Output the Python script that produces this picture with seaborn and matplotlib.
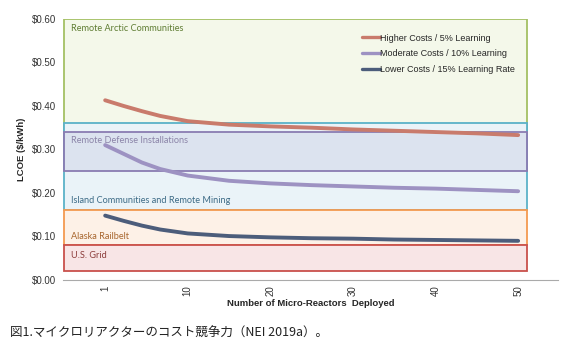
import numpy as np
import pandas as pd
import matplotlib
matplotlib.use("Agg")
import matplotlib.pyplot as plt
from matplotlib.patches import Rectangle
import seaborn as sns

# ---- data ----
deployed = [1, 3, 5, 7, 10, 15, 20, 25, 30, 35, 40, 45, 50]
higher = [0.413, 0.400, 0.388, 0.377, 0.365, 0.357, 0.353, 0.350, 0.346, 0.343, 0.340, 0.337, 0.333]
moderate = [0.310, 0.290, 0.270, 0.255, 0.240, 0.228, 0.222, 0.218, 0.215, 0.212, 0.210, 0.207, 0.204]
lower = [0.148, 0.136, 0.125, 0.116, 0.107, 0.101, 0.098, 0.096, 0.095, 0.093, 0.092, 0.091, 0.090]
series_names = ["Higher Costs / 5% Learning", "Moderate Costs / 10% Learning",
                "Lower Costs / 15% Learning Rate"]
x_ticks = [1, 10, 20, 30, 40, 50]
y_ticks = [0.0, 0.1, 0.2, 0.3, 0.4, 0.5, 0.6]

band_names = ["Remote Arctic Communities", "Island Communities and Remote Mining",
              "Remote Defense Installations", "Alaska Railbelt", "U.S. Grid"]
band_low = [0.30, 0.16, 0.25, 0.08, 0.02]
band_high = [0.60, 0.36, 0.34, 0.16, 0.08]
band_label_y = [0.578, 0.182, 0.320, 0.101, 0.057]

caption = "図1.マイクロリアクターのコスト競争力（NEI 2019a）。"

# ---- style ----
sns.set_style("white")
plt.rcParams['font.family'] = ['Liberation Sans', 'DejaVu Sans']

line_colors = ["#c97b6c", "#9d92c2", "#4c5d7b"]
band_face = ["#f4f8ea", "#eaf3f8", "#cdd1e6", "#fdf1e7", "#f8e5e6"]
band_edge = ["#a4c063", "#5ab2c8", "#8a7cb2", "#f49a50", "#c9504c"]
band_text = ["#5f7d33", "#3d6b86", "#8b84a8", "#a8662e", "#8c3b3a"]
band_alpha = [1, 1, 0.45, 1, 1]

# category-like positions (equal spacing between labelled ticks)
tick_pos = np.arange(len(x_ticks))
pos = np.interp(deployed, x_ticks, tick_pos)

df = pd.DataFrame({
    "pos": np.tile(pos, 3),
    "LCOE": higher + moderate + lower,
    "Scenario": np.repeat(series_names, len(deployed)),
})

fig = plt.figure(figsize=(5.68, 3.5), dpi=100)
ax = fig.add_axes([0.111, 0.2, 0.871, 0.746])

x0, x1 = -0.5, 5.11
for i in range(len(band_names)):
    z = 1 + i * 0.2
    ax.add_patch(Rectangle((x0, band_low[i]), x1 - x0, band_high[i] - band_low[i],
                           facecolor=band_face[i], edgecolor="none",
                           alpha=band_alpha[i], zorder=z))
    ax.add_patch(Rectangle((x0, band_low[i]), x1 - x0, band_high[i] - band_low[i],
                           facecolor="none", edgecolor=band_edge[i], lw=1.3,
                           zorder=z + 0.1))
    ax.text(-0.41, band_label_y[i], band_names[i], color=band_text[i],
            fontsize=6.6, family=['Lato', 'DejaVu Sans'], va="center", ha="left",
            zorder=5)

sns.lineplot(data=df, x="pos", y="LCOE", hue="Scenario", palette=line_colors,
             linewidth=2.8, ax=ax, zorder=6, legend=True)

ax.set_xlim(-0.51, 5.48)
ax.set_ylim(0, 0.6)
ax.set_xticks(tick_pos)
ax.set_xticklabels([str(v) for v in x_ticks], rotation=90, fontsize=7, color="#333333")
ax.set_yticks(y_ticks)
ax.set_yticklabels([f"${v:.2f}" for v in y_ticks], fontsize=7, color="#333333")
ax.tick_params(axis="y", length=3, color="#999999", pad=2)
ax.tick_params(axis="x", length=0, pad=4)
for s in ["top", "right"]:
    ax.spines[s].set_visible(False)
ax.spines["left"].set_visible(False)
ax.spines["bottom"].set_color("#aaaaaa")
ax.spines["bottom"].set_linewidth(0.8)

ax.set_xlabel("Number of Micro-Reactors  Deployed", fontsize=6.8, fontweight="bold", labelpad=2)
ax.set_ylabel("LCOE ($/kWh)", fontsize=6.8, fontweight="bold", labelpad=4)

leg = ax.legend(loc="upper right", bbox_to_anchor=(0.93, 0.975), frameon=False,
                fontsize=6.5, handlelength=2.0, handletextpad=0.05, labelspacing=0.75)
for h in leg.get_lines():
    h.set_linewidth(2.4)
leg.set_zorder(7)

fig.text(0.018, 0.048, caption, fontsize=9, family=['Noto Sans CJK JP', 'DejaVu Sans'],
         color="#222222", va="center", ha="left")

fig.savefig("out.png", dpi=100, facecolor="white")
